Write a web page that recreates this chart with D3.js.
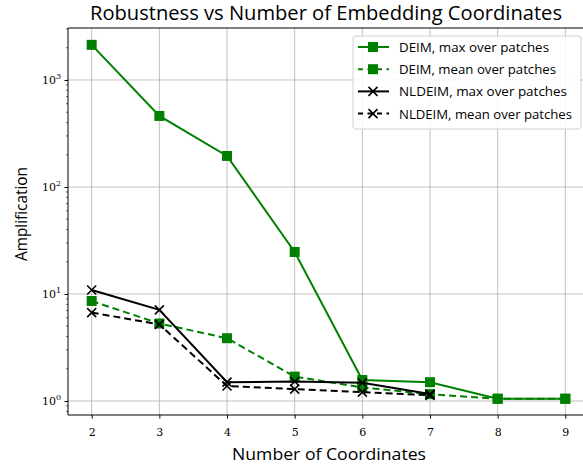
<!DOCTYPE html>
<html>
<head>
<meta charset="utf-8">
<script src="https://cdn.jsdelivr.net/npm/d3@7/dist/d3.min.js"></script>
<style>
  body { margin: 0; background: #fff; }
  svg { display: block; }
</style>
</head>
<body>
<svg id="chart" width="583" height="471"></svg>
<script>
// Number of embedding coordinates
const coords = [2, 3, 4, 5, 6, 7, 8, 9];
const coordsNL = [2, 3, 4, 5, 6, 7];

// Amplification values per method
const deimMax = [2130, 461, 195, 24.7, 1.57, 1.50, 1.05, 1.05];
const deimMean = [8.6, 5.3, 3.86, 1.69, 1.34, 1.16, 1.05, 1.05];
const nldeimMax = [10.9, 7.1, 1.50, 1.52, 1.48, 1.16];
const nldeimMean = [6.7, 5.2, 1.38, 1.29, 1.21, 1.13];

const xTicks = [2, 3, 4, 5, 6, 7, 8, 9];
const yTicks = [1, 10, 100, 1000];
const yTickExp = ["0", "1", "2", "3"];

const legendLabels = [
  "DEIM, max over patches",
  "DEIM, mean over patches",
  "NLDEIM, max over patches",
  "NLDEIM, mean over patches"
];
const legendWidths = [150, 157, 168, 173];

const series = [
  { xs: coords, ys: deimMax, color: "#008000", dash: null, marker: "square", label: legendLabels[0] },
  { xs: coords, ys: deimMean, color: "#008000", dash: "7,4", marker: "square", label: legendLabels[1] },
  { xs: coordsNL, ys: nldeimMax, color: "#000000", dash: null, marker: "x", label: legendLabels[2] },
  { xs: coordsNL, ys: nldeimMean, color: "#000000", dash: "7,4", marker: "x", label: legendLabels[3] }
];

const svg = d3.select("#chart");
const plot = { left: 68, top: 28, right: 589, bottom: 415 };

const x = d3.scaleLinear().domain([1.65, 9.35]).range([plot.left, plot.right]);
const y = d3.scaleLog().domain([0.74, 3060]).range([plot.bottom, plot.top]);

const sans = "'Open Sans', Lato, 'DejaVu Sans', sans-serif";
const serif = "'DejaVu Serif', 'Liberation Serif', serif";

const g = svg.append("g");

// grid
g.append("g").selectAll("line").data(xTicks).join("line")
  .attr("x1", d => x(d)).attr("x2", d => x(d))
  .attr("y1", plot.top).attr("y2", plot.bottom)
  .attr("stroke", "#b0b0b0").attr("stroke-width", 0.8);
g.append("g").selectAll("line").data(yTicks).join("line")
  .attr("x1", plot.left).attr("x2", plot.right)
  .attr("y1", d => y(d)).attr("y2", d => y(d))
  .attr("stroke", "#b0b0b0").attr("stroke-width", 0.8);

// series lines
const line = d3.line().x(d => x(d[0])).y(d => y(d[1]));
series.forEach(s => {
  const pts = s.xs.map((v, i) => [v, s.ys[i]]);
  g.append("path").datum(pts)
    .attr("d", line)
    .attr("fill", "none")
    .attr("stroke", s.color)
    .attr("stroke-width", 2)
    .attr("stroke-dasharray", s.dash);
  const mk = g.append("g").selectAll("g").data(pts).join("g")
    .attr("transform", d => `translate(${x(d[0])},${y(d[1])})`);
  if (s.marker === "square") {
    mk.append("rect").attr("x", -5).attr("y", -5).attr("width", 10).attr("height", 10)
      .attr("fill", s.color);
  } else {
    mk.append("path").attr("d", "M-4.5,-4.5L4.5,4.5M-4.5,4.5L4.5,-4.5")
      .attr("stroke", s.color).attr("stroke-width", 1.6).attr("fill", "none");
  }
});

// spines
g.append("line").attr("x1", plot.left).attr("x2", plot.left).attr("y1", plot.top).attr("y2", plot.bottom)
  .attr("stroke", "#000").attr("stroke-width", 1);
g.append("line").attr("x1", plot.left).attr("x2", plot.right).attr("y1", plot.bottom).attr("y2", plot.bottom)
  .attr("stroke", "#000").attr("stroke-width", 1);
g.append("line").attr("x1", plot.left).attr("x2", plot.right).attr("y1", plot.top).attr("y2", plot.top)
  .attr("stroke", "#000").attr("stroke-width", 1);

// x axis
const xAxis = d3.axisBottom(x).tickValues(xTicks).tickSize(3.5).tickSizeOuter(0).tickPadding(10);
const xa = svg.append("g").attr("transform", `translate(0,${plot.bottom})`).call(xAxis);
xa.select(".domain").remove();
xa.selectAll("text").attr("font-family", serif).attr("font-size", 11).attr("fill", "#000");

// y axis with minor ticks
const minor = [];
[0.1, 1, 10, 100, 1000].forEach(dec => {
  for (let k = 2; k <= 9; k++) {
    const v = dec * k;
    if (v >= 0.74 && v <= 3060) minor.push(v);
  }
});
svg.append("g").selectAll("line").data(minor).join("line")
  .attr("x1", plot.left - 2).attr("x2", plot.left)
  .attr("y1", d => y(d)).attr("y2", d => y(d))
  .attr("stroke", "#000").attr("stroke-width", 0.6);

const yAxis = d3.axisLeft(y).tickValues(yTicks).tickSize(3.5).tickSizeOuter(0).tickFormat("");
const ya = svg.append("g").attr("transform", `translate(${plot.left},0)`).call(yAxis);
ya.select(".domain").remove();

const yl = svg.append("g").selectAll("text").data(yTicks).join("text")
  .attr("x", plot.left - 7).attr("y", d => y(d) + 4)
  .attr("text-anchor", "end")
  .attr("font-family", serif).attr("font-size", 11);
yl.append("tspan").text("10");
yl.append("tspan").attr("dy", -5).attr("font-size", 8).text((d, i) => yTickExp[i]);

// titles
svg.append("text").attr("x", 326).attr("y", 20).attr("text-anchor", "middle")
  .attr("font-family", sans).attr("font-size", 19.5)
  .attr("textLength", 472).attr("lengthAdjust", "spacingAndGlyphs")
  .text("Robustness vs Number of Embedding Coordinates");
svg.append("text").attr("x", 329).attr("y", 460).attr("text-anchor", "middle")
  .attr("font-family", sans).attr("font-size", 16.5)
  .attr("textLength", 194).attr("lengthAdjust", "spacingAndGlyphs")
  .text("Number of Coordinates");
svg.append("text").attr("transform", `translate(27,214) rotate(-90)`).attr("text-anchor", "middle")
  .attr("font-family", sans).attr("font-size", 16.5)
  .attr("textLength", 94).attr("lengthAdjust", "spacingAndGlyphs")
  .text("Amplification");

// legend
const lg = svg.append("g").attr("transform", "translate(353,36)");
lg.append("rect").attr("width", 228).attr("height", 93).attr("rx", 3)
  .attr("fill", "#fff").attr("fill-opacity", 0.85).attr("stroke", "#d0d0d0");
series.forEach((s, i) => {
  const yy = 11 + i * 22.2;
  const row = lg.append("g").attr("transform", `translate(0,${yy})`);
  row.append("line").attr("x1", 5).attr("x2", 36).attr("y1", 0).attr("y2", 0)
    .attr("stroke", s.color).attr("stroke-width", 2).attr("stroke-dasharray", s.dash ? "5,4.5" : null);
  if (s.marker === "square") {
    row.append("rect").attr("x", 15).attr("y", -5).attr("width", 10).attr("height", 10).attr("fill", s.color);
  } else {
    row.append("path").attr("d", "M15.5,-4.5L24.5,4.5M15.5,4.5L24.5,-4.5")
      .attr("stroke", s.color).attr("stroke-width", 1.6);
  }
  row.append("text").attr("x", 46).attr("y", 5)
    .attr("font-family", sans).attr("font-size", 13.5)
    .attr("textLength", legendWidths[i]).attr("lengthAdjust", "spacingAndGlyphs")
    .text(s.label);
});
</script>
</body>
</html>
